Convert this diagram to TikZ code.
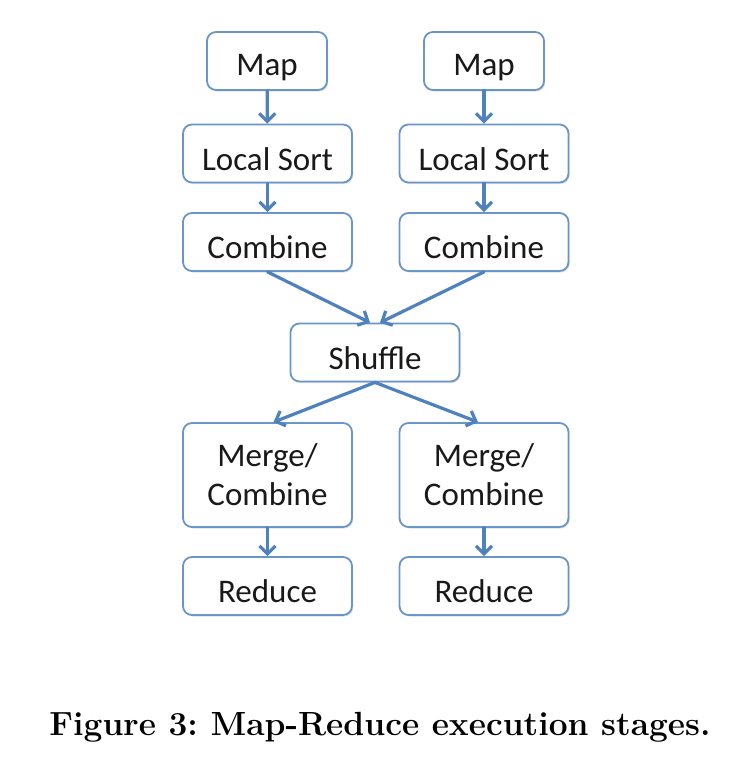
\documentclass[tikz,border=0pt]{standalone}
\usepackage{fontspec}
\newfontfamily\boxfont{Carlito}
\usetikzlibrary{arrows.meta,shadows}
\definecolor{edgeblue}{HTML}{4F81BD}
\definecolor{boxblue}{HTML}{6A95C9}
\begin{document}
\begin{tikzpicture}[x=1pt,y=-1pt,
  stage/.style={draw=boxblue,line width=1.8pt,fill=white,rounded corners=9pt,
    minimum width=169pt,minimum height=58pt,inner sep=0pt,align=center,
    font=\boxfont\fontsize{33}{39}\selectfont,text=black!90,
    execute at begin node={\rule{0pt}{34pt}},
    drop shadow={shadow xshift=1.2pt,shadow yshift=-1.5pt,opacity=0.25}},
  mapbox/.style={stage,minimum width=120pt},
  flow/.style={draw=edgeblue,line width=3.2pt,line cap=round,
    -{Straight Barb[length=8pt,width=16pt,line width=3.2pt]}}]
\useasboundingbox (0,0) rectangle (744,766);
\node[mapbox] (mapL) at (267,61) {Map};
\node[mapbox] (mapR) at (484,61) {Map};
\node[stage] (sortL) at (267.5,153.5) {Local Sort};
\node[stage] (sortR) at (484,153.5) {Local Sort};
\node[stage] (combL) at (267.5,242) {Combine};
\node[stage] (combR) at (484,242) {Combine};
\node[stage] (shuf) at (375,352.5) {Shuffle};
\node[stage,minimum height=104pt] (mergeL) at (267.5,475) {Merge/\\Combine};
\node[stage,minimum height=104pt] (mergeR) at (484,475) {Merge/\\Combine};
\node[stage] (redL) at (267.5,586) {Reduce};
\node[stage] (redR) at (484,586) {Reduce};
\draw[flow] (mapL) -- (sortL);
\draw[flow] (mapR) -- (sortR);
\draw[flow] (sortL) -- (combL);
\draw[flow] (sortR) -- (combR);
\draw[flow] (combL.south) -- ([xshift=-5pt]shuf.north);
\draw[flow] (combR.south) -- ([xshift=5pt]shuf.north);
\draw[flow] (shuf.south) -- ([xshift=6pt]mergeL.north);
\draw[flow] (shuf.south) -- ([xshift=-6pt]mergeR.north);
\draw[flow] (mergeL) -- (redL);
\draw[flow] (mergeR) -- (redR);
\node[font=\bfseries\fontsize{33.5}{38}\selectfont] (cap) at (380,727) {Figure 3:\ Map-Reduce execution stages.};
\end{tikzpicture}
\end{document}
